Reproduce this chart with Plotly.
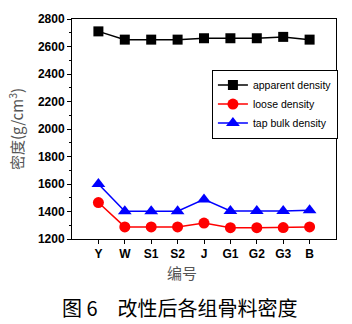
import plotly.graph_objects as go

categories = ["Y", "W", "S1", "S2", "J", "G1", "G2", "G3", "B"]
apparent_density = [2710, 2650, 2650, 2650, 2660, 2660, 2660, 2670, 2650]
loose_density = [1465, 1288, 1288, 1288, 1316, 1282, 1282, 1283, 1288]
tap_bulk_density = [1600, 1402, 1402, 1402, 1488, 1404, 1404, 1404, 1410]
y_tick_values = [1200, 1400, 1600, 1800, 2000, 2200, 2400, 2600, 2800]

x_idx = list(range(len(categories)))

fig = go.Figure()
fig.add_trace(go.Scatter(x=x_idx, y=apparent_density, name="apparent density",
                         mode="lines+markers", line=dict(color="black", width=1.5),
                         marker=dict(symbol="square", size=10, color="black")))
fig.add_trace(go.Scatter(x=x_idx, y=loose_density, name="loose density",
                         mode="lines+markers", line=dict(color="#ff0000", width=1.5),
                         marker=dict(symbol="circle", size=11, color="#ff0000")))
fig.add_trace(go.Scatter(x=x_idx, y=tap_bulk_density, name="tap bulk density",
                         mode="lines+markers", line=dict(color="#0000ff", width=1.5),
                         marker=dict(symbol="triangle-up", size=12, color="#0000ff")))

tickfont = dict(family="Liberation Sans, Arial", size=12, color="black", weight="bold")

fig.update_layout(
    width=352, height=324,
    margin=dict(l=72, r=16, t=14, b=85),
    paper_bgcolor="white", plot_bgcolor="white",
    showlegend=True,
    legend=dict(x=0.53, y=0.77, xanchor="left", yanchor="top",
                bordercolor="black", borderwidth=1, bgcolor="white",
                font=dict(family="Liberation Sans, Arial", size=10.5, color="black"),
                itemwidth=30, tracegroupgap=0),
    xaxis=dict(range=[-1, 9], tickmode="array", tickvals=x_idx, ticktext=categories,
               showline=True, linecolor="black", linewidth=1, mirror=True,
               ticks="outside", ticklen=4, tickcolor="black", showgrid=False,
               zeroline=False, tickfont=tickfont),
    yaxis=dict(range=[1200, 2800], tickmode="array", tickvals=y_tick_values,
               showline=True, linecolor="black", linewidth=1, mirror=True,
               ticks="outside", ticklen=4, tickcolor="black", showgrid=False,
               zeroline=False, tickfont=tickfont,
               minor=dict(dtick=100, ticks="outside", ticklen=2, tickcolor="black"),
               title=dict(text="密度(g/cm<sup>3</sup>)", standoff=10,
                          font=dict(family="Noto Sans CJK SC", size=15, color="#555555"))),
)

fig.add_annotation(text="编号", x=0.418, y=-0.095, xref="paper", yref="paper",
                   showarrow=False, xanchor="center", yanchor="top",
                   font=dict(family="Noto Sans CJK SC", size=15, color="#555555"))
fig.add_annotation(text="图 6\u2003改性后各组骨料密度", x=0.41, y=-0.235, xref="paper", yref="paper",
                   showarrow=False, xanchor="center", yanchor="top",
                   font=dict(family="Noto Sans CJK SC", size=20, color="black"))

fig.write_html("out.html")
